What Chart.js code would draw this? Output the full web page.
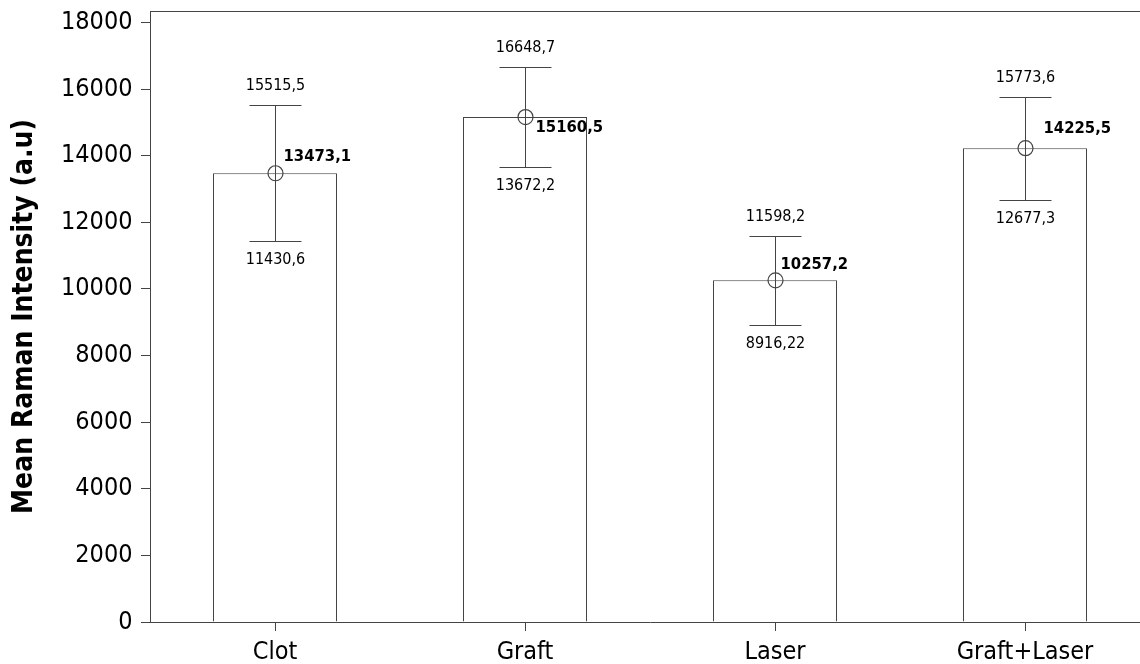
<!DOCTYPE html>
<html>
<head>
<meta charset="utf-8">
<script src="https://cdn.jsdelivr.net/npm/chart.js@4/dist/chart.umd.min.js"></script>
<style>
  html, body { margin: 0; padding: 0; background: #fff; overflow: hidden; }
  #wrap { position: relative; width: 1150px; height: 664px; }
</style>
</head>
<body>
<div id="wrap"><canvas id="c"></canvas></div>
<script>
// Group means with their interval limits
const categories  = ['Clot', 'Graft', 'Laser', 'Graft+Laser'];
const meanValues  = [13473.1, 15160.5, 10257.2, 14225.5];
const upperValues = [15515.5, 16648.7, 11598.2, 15773.6];
const lowerValues = [11430.6, 13672.2, 8916.22, 12677.3];
const yTickValues = [0, 2000, 4000, 6000, 8000, 10000, 12000, 14000, 16000, 18000];
const yTitle = 'Mean Raman Intensity (a.u)';

// Styling
const FONT = '"DejaVu Sans Condensed", "DejaVu Sans", sans-serif';
const LINE = '#444444';
const meanLabelShift = [[8, -17], [10, 11], [5, -16], [18, -19]];

const fmt = v => String(v).replace('.', ',');

// Error bars, mean markers and value labels
const intervalPlugin = {
  id: 'intervals',
  afterDatasetsDraw(chart) {
    const { ctx, scales: { x, y } } = chart;
    ctx.save();
    ctx.strokeStyle = LINE;
    ctx.lineWidth = 1;
    ctx.fillStyle = '#000';
    meanValues.forEach((m, i) => {
      const cx = Math.round(x.getPixelForValue(i)) + 0.5;
      const yu = Math.round(y.getPixelForValue(upperValues[i])) + 0.5;
      const yl = Math.round(y.getPixelForValue(lowerValues[i])) + 0.5;
      const ym = y.getPixelForValue(m);
      ctx.beginPath();
      ctx.moveTo(cx, yu); ctx.lineTo(cx, yl);
      ctx.moveTo(cx - 26, yu); ctx.lineTo(cx + 26, yu);
      ctx.moveTo(cx - 26, yl); ctx.lineTo(cx + 26, yl);
      ctx.stroke();
      ctx.beginPath();
      ctx.lineWidth = 1.2;
      ctx.arc(cx, ym, 7.5, 0, Math.PI * 2);
      ctx.stroke();
      ctx.lineWidth = 1;

      ctx.textBaseline = 'middle';
      ctx.textAlign = 'center';
      ctx.font = '16px ' + FONT;
      ctx.fillText(fmt(upperValues[i]), cx, yu - 19.5);
      ctx.fillText(fmt(lowerValues[i]), cx, yl + 18.5);
      ctx.textAlign = 'left';
      ctx.font = 'bold 16.5px ' + FONT;
      ctx.fillText(fmt(m), cx + meanLabelShift[i][0], ym + meanLabelShift[i][1]);
    });
    ctx.restore();
  },
  afterDraw(chart) {
    const { ctx, chartArea } = chart;
    const t = Math.floor(chartArea.top) + 0.5;
    ctx.save();
    ctx.strokeStyle = LINE;
    ctx.lineWidth = 1;
    ctx.beginPath();
    ctx.moveTo(chartArea.left, t);
    ctx.lineTo(chartArea.right, t);
    ctx.stroke();
    ctx.restore();
  }
};

new Chart(document.getElementById('c'), {
  type: 'bar',
  data: {
    labels: categories,
    datasets: [{
      data: meanValues,
      backgroundColor: '#ffffff',
      borderColor: LINE,
      borderWidth: 1,
      barPercentage: 0.496,
      categoryPercentage: 1
    }]
  },
  options: {
    responsive: true,
    maintainAspectRatio: false,
    animation: false,
    layout: { padding: { top: 11, left: 0, right: 0, bottom: 0 } },
    plugins: { legend: { display: false }, tooltip: { enabled: false } },
    scales: {
      x: {
        offset: true,
        grid: { display: true, drawOnChartArea: false, offset: false, tickLength: 9, color: LINE },
        border: { color: LINE },
        ticks: { color: '#000', font: { family: FONT, size: 25 }, padding: 6, maxRotation: 0 },
        afterFit: s => { s.height = 42; s.paddingLeft = 0; s.paddingRight = 0; }
      },
      y: {
        min: 0,
        max: 18345,
        afterBuildTicks: s => { s.ticks = yTickValues.map(v => ({ value: v })); },
        grid: { display: true, drawOnChartArea: false, tickLength: 9, color: LINE },
        border: { color: LINE },
        ticks: {
          color: '#000',
          font: { family: FONT, size: 25 },
          padding: 8.5,
          callback: v => String(v)
        },
        title: {
          display: true,
          text: yTitle,
          color: '#000',
          font: { family: FONT, size: 28, weight: 'bold' },
          padding: { top: 8, bottom: 0 }
        },
        afterFit: s => { s.width = 150; s.paddingTop = 0; s.paddingBottom = 0; }
      }
    }
  },
  plugins: [intervalPlugin]
});
</script>
</body>
</html>
